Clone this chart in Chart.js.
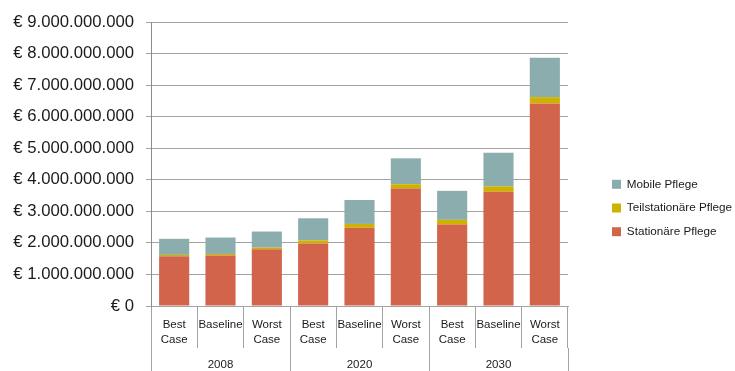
<!DOCTYPE html>
<html>
<head>
<meta charset="utf-8">
<script src="https://cdn.jsdelivr.net/npm/chart.js@4"></script>
<style>
  html, body { margin: 0; padding: 0; background: #ffffff; }
  #wrap { width: 735px; height: 371px; position: relative; }
</style>
</head>
<body>
<div id="wrap"><canvas id="c" width="735" height="371"></canvas></div>
<script>
// ---- data ----
const scenarioLabels = [['Best', 'Case'], 'Baseline', ['Worst', 'Case'],
                        ['Best', 'Case'], 'Baseline', ['Worst', 'Case'],
                        ['Best', 'Case'], 'Baseline', ['Worst', 'Case']];
const yearLabels = ['2008', '2020', '2030'];
const seriesNames = ['Stationäre Pflege', 'Teilstationäre Pflege', 'Mobile Pflege'];
const stationaer = [1580000000, 1600000000, 1800000000, 1980000000, 2480000000, 3720000000, 2580000000, 3620000000, 6420000000];
const teilstationaer = [40000000, 50000000, 50000000, 100000000, 120000000, 140000000, 150000000, 170000000, 200000000];
const mobile = [510000000, 520000000, 510000000, 700000000, 760000000, 820000000, 920000000, 1070000000, 1250000000];
const yTickLabels = ['€ 0', '€ 1.000.000.000', '€ 2.000.000.000', '€ 3.000.000.000', '€ 4.000.000.000',
                     '€ 5.000.000.000', '€ 6.000.000.000', '€ 7.000.000.000', '€ 8.000.000.000', '€ 9.000.000.000'];

const colors = ['#D1644B', '#CDB200', '#8CADAD'];
const gridColor = '#a3a3a3';
const FONT = "'Liberation Sans', Arial, sans-serif";

new Chart(document.getElementById('c'), {
  type: 'bar',
  data: {
    labels: scenarioLabels,
    datasets: [
      { label: seriesNames[0], data: stationaer, backgroundColor: colors[0] },
      { label: seriesNames[1], data: teilstationaer, backgroundColor: colors[1] },
      { label: seriesNames[2], data: mobile, backgroundColor: colors[2] }
    ]
  },
  options: {
    responsive: false,
    animation: false,
    datasets: { bar: { categoryPercentage: 1.0, barPercentage: 0.65, borderWidth: 0 } },
    layout: { padding: { top: 20, left: 0, right: 0, bottom: 0 } },
    plugins: {
      tooltip: { enabled: false },
      legend: {
        position: 'right',
        reverse: true,
        maxWidth: 135,
        title: { display: true, text: ' ', font: { size: 12, lineHeight: 1 }, padding: { top: 0, bottom: 13 } },
        labels: {
          boxWidth: 9, boxHeight: 9, padding: 12,
          color: '#1a1a1a',
          font: { family: FONT, size: 11.7 }
        }
      }
    },
    scales: {
      x: {
        type: 'category',
        position: 'bottom',
        stacked: true,
        weight: 0,
        grid: { offset: true, drawOnChartArea: false, drawTicks: true, tickLength: 42, color: gridColor },
        border: { display: true, color: gridColor },
        ticks: {
          color: '#1a1a1a', maxRotation: 0, autoSkip: false, padding: -30,
          font: { family: FONT, size: 11.5, lineHeight: 1.25 }
        },
        afterFit: s => { s.height = 42; }
      },
      x2: {
        type: 'category',
        position: 'bottom',
        labels: yearLabels,
        weight: 1,
        grid: { offset: true, drawOnChartArea: false, drawTicks: true, tickLength: 23, color: gridColor },
        border: { display: false },
        ticks: {
          color: '#1a1a1a', maxRotation: 0, autoSkip: false, padding: -13.5,
          font: { family: FONT, size: 11.5, lineHeight: 1.25 }
        },
        afterFit: s => { s.height = 23; }
      },
      y: {
        stacked: true,
        min: 0, max: 9000000000,
        grid: { color: gridColor, drawTicks: true, tickLength: 5 },
        border: { display: true, color: '#8c8c8c' },
        ticks: {
          stepSize: 1000000000,
          color: '#1a1a1a',
          padding: 12,
          font: { family: FONT, size: 16.7 },
          callback: (v, i) => yTickLabels[i]
        },
        afterFit: s => { s.width = 151; }
      },
      gap: {
        type: 'linear',
        position: 'right',
        display: true,
        grid: { display: false },
        border: { display: false },
        ticks: { display: false },
        afterFit: s => { s.width = 32; }
      }
    }
  }
});
</script>
</body>
</html>
